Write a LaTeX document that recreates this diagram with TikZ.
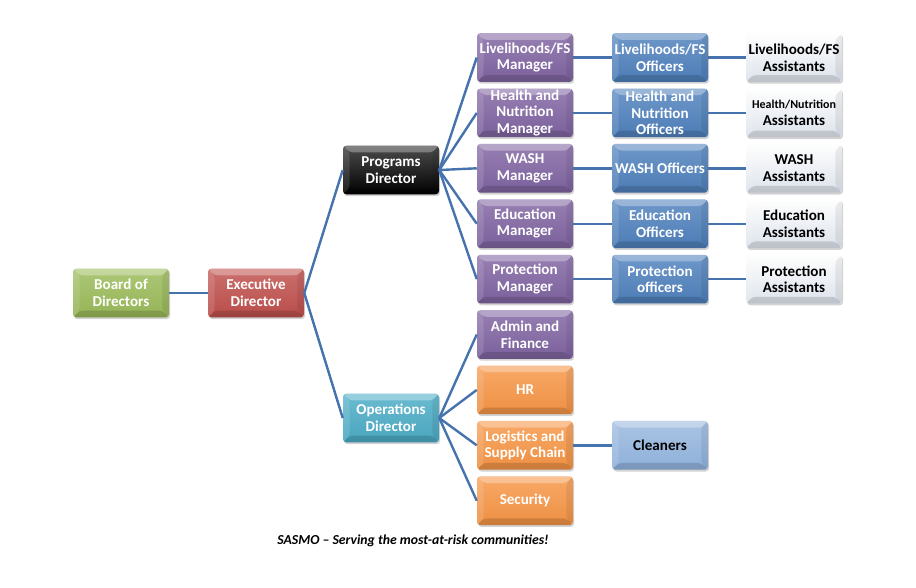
\documentclass[tikz,border=0pt]{standalone}
\usepackage{fontspec}
\setmainfont{Carlito}
\usetikzlibrary{shadows}
\definecolor{cgreen}{HTML}{9BBB59}
\definecolor{cred}{HTML}{C0504D}
\definecolor{caqua}{HTML}{4BACC6}
\definecolor{cpurple}{HTML}{8064A2}
\definecolor{corange}{HTML}{F79646}
\definecolor{cblue}{HTML}{4F81BD}
\definecolor{clight}{HTML}{DDE3EC}
\definecolor{cclean}{HTML}{8EB0DA}
\definecolor{cline}{HTML}{4673AD}
\tikzset{
  box/.style={rectangle, rounded corners=2.5pt, minimum width=72pt, minimum height=36.5pt,
    inner sep=0.5pt, align=center, font=\bfseries\fontsize{11.3}{12.4}\selectfont, text=white,
    drop shadow={opacity=0.35, shadow xshift=0.8pt, shadow yshift=-1.4pt},
    path picture={
      \coordinate (nw) at (path picture bounding box.north west);
      \coordinate (ne) at (path picture bounding box.north east);
      \coordinate (sw) at (path picture bounding box.south west);
      \coordinate (se) at (path picture bounding box.south east);
      \fill[white,opacity=0.30] (nw) -- (ne) -- ([shift={(-5pt,-5pt)}]ne) -- ([shift={(5pt,-5pt)}]nw) -- cycle;
      \fill[white,opacity=0.12] (nw) -- (sw) -- ([shift={(5pt,5pt)}]sw) -- ([shift={(5pt,-5pt)}]nw) -- cycle;
      \fill[black,opacity=0.14] (sw) -- (se) -- ([shift={(-5pt,5pt)}]se) -- ([shift={(5pt,5pt)}]sw) -- cycle;
      \fill[black,opacity=0.07] (ne) -- (se) -- ([shift={(-5pt,5pt)}]se) -- ([shift={(-5pt,-5pt)}]ne) -- cycle;
    }},
  cbox/.style={box, top color=#1!82!white, bottom color=#1!96!black},
  greenbox/.style={cbox=cgreen},
  redbox/.style={cbox=cred},
  aquabox/.style={cbox=caqua},
  purplebox/.style={cbox=cpurple},
  orangebox/.style={cbox=corange},
  bluebox/.style={cbox=cblue},
  blackbox/.style={box, top color=black!70, bottom color=black},
  lightbox/.style={box, top color=white!96!clight, bottom color=clight, text=black},
  cleanbox/.style={box, top color=cclean!75!white, bottom color=cclean, text=black},
  link/.style={draw=cline, line width=1.8pt},
}
\begin{document}
\begin{tikzpicture}[x=0.75pt, y=-0.75pt]
\useasboundingbox (0,0) rectangle (916,587);
% rows
\def\ra{57.5}\def\rb{112.9}\def\rc{168.3}\def\rd{223.7}\def\re{279.1}
\def\rf{334.5}\def\rg{389.9}\def\rh{445.3}\def\ri{500.7}
\node[greenbox] (board) at (121,293) {Board of\\Directors};
\node[redbox] (exec) at (256,293) {Executive\\Director};
\node[blackbox] (prog) at (391,170) {Programs\\Director};
\node[aquabox] (ops) at (391,418) {Operations\\Director};
% managers
\node[purplebox] (m1) at (525,\ra) {Livelihoods/FS\\Manager};
\node[purplebox] (m2) at (525,\rb) {Health and\\Nutrition\\Manager};
\node[purplebox] (m3) at (525,\rc) {WASH\\Manager};
\node[purplebox] (m4) at (525,\rd) {Education\\Manager};
\node[purplebox] (m5) at (525,\re) {Protection\\Manager};
\node[purplebox] (o1) at (525,\rf) {Admin and\\Finance};
\node[orangebox] (o2) at (525,\rg) {HR};
\node[orangebox] (o3) at (525,\rh) {Logistics and\\Supply Chain};
\node[orangebox] (o4) at (525,\ri) {Security};
% officers
\node[bluebox] (f1) at (660,\ra) {Livelihoods/FS\\Officers};
\node[bluebox] (f2) at (660,\rb) {Health and\\Nutrition\\Officers};
\node[bluebox] (f3) at (660,\rc) {WASH Officers};
\node[bluebox] (f4) at (660,\rd) {Education\\Officers};
\node[bluebox] (f5) at (660,\re) {Protection\\officers};
\node[cleanbox] (cl) at (660,\rh) {Cleaners};
% assistants
\node[lightbox] (a1) at (794,\ra) {Livelihoods/FS\\Assistants};
\node[lightbox] (a2) at (794,\rb) {{\fontsize{9}{11}\selectfont Health/Nutrition}\\Assistants};
\node[lightbox] (a3) at (794,\rc) {WASH\\Assistants};
\node[lightbox] (a4) at (794,\rd) {Education\\Assistants};
\node[lightbox] (a5) at (794,\re) {Protection\\Assistants};
% links
\path[link] (board.east) -- (exec.west);
\path[link] (exec.east) -- (prog.west);
\path[link] (exec.east) -- (ops.west);
\foreach \m in {m1,m2,m3,m4,m5} {\path[link] (prog.east) -- (\m.west);}
\foreach \m in {o1,o2,o3,o4} {\path[link] (ops.east) -- (\m.west);}
\foreach \i in {1,...,5} {\path[link] (m\i.east) -- (f\i.west); \path[link] (f\i.east) -- (a\i.west);}
\path[link] (o3.east) -- (cl.west);
\node[font=\bfseries\itshape\fontsize{10.3}{12}\selectfont] (cap) at (413,541) {SASMO – Serving the most-at-risk communities!};
\end{tikzpicture}
\end{document}
